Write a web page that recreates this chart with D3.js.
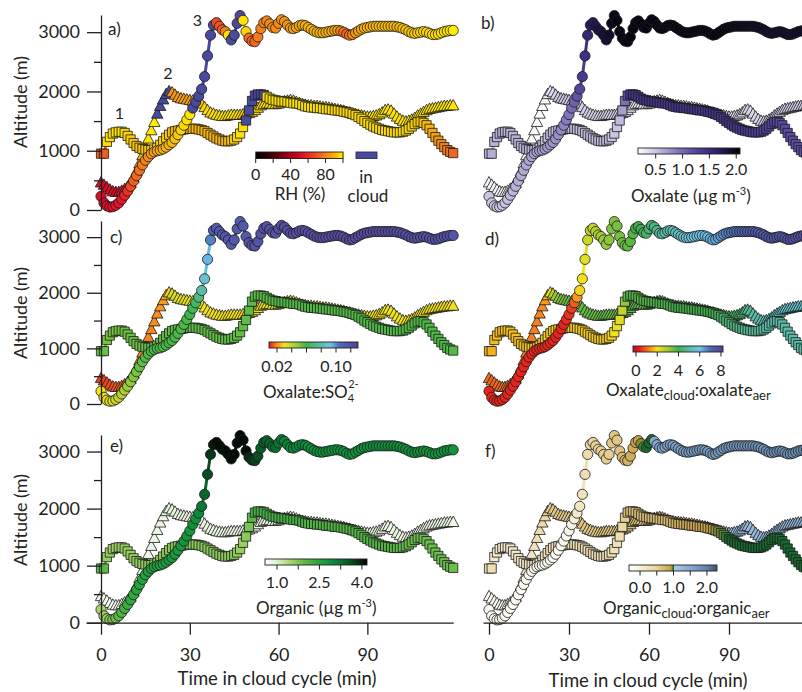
<!DOCTYPE html>
<html>
<head>
<meta charset="utf-8">
<script src="https://cdn.jsdelivr.net/npm/d3@7/dist/d3.min.js"></script>
<style>
  body { margin: 0; background: #fff; }
  svg { display: block; }
  text { font-family: Lato, "Open Sans", sans-serif; fill: #231f20; }
</style>
</head>
<body>
<svg id="chart" width="802" height="692"></svg>
<script>
// ---------------- data: time in cloud cycle (min) ----------------
const minutes = [
  0,1,2,3,4,5,6,7,8,9,10,11,12,13,14,15,16,17,18,19,
  20,21,22,23,24,25,26,27,28,29,30,31,32,33,34,35,36,37,38,39,
  40,41,42,43,44,45,46,47,48,49,50,51,52,53,54,55,56,57,58,59,
  60,61,62,63,64,65,66,67,68,69,70,71,72,73,74,75,76,77,78,79,
  80,81,82,83,84,85,86,87,88,89,90,91,92,93,94,95,96,97,98,99,
  100,101,102,103,104,105,106,107,108,109,110,111,112,113,114,115,116,117,118,119];

// altitude (m) of the three parcel trajectories
const altCircle = [
  230,120,70,50,55,80,120,180,250,320,
  400,490,580,670,760,840,900,950,980,1000,
  1010,1030,1060,1100,1140,1200,1270,1350,1430,1520,
  1610,1720,1820,1920,2040,2250,2600,2950,3120,3160,
  3100,3040,3010,2950,2870,2950,3150,3280,3200,3010,
  2900,2850,2840,2920,3060,3160,3190,3140,3080,3070,
  3150,3210,3180,3120,3070,3060,3080,3110,3120,3110,
  3080,3050,3020,3000,2990,2990,3000,3010,3020,3030,
  3030,3020,3000,2970,2950,2960,2990,3020,3050,3070,
  3080,3090,3100,3100,3100,3100,3100,3100,3100,3100,
  3090,3080,3060,3040,3010,2990,2980,2990,3000,3010,
  3000,2980,2960,2960,2970,2990,3010,3020,3030,3030];
const altTriangle = [
  460,420,380,340,310,300,300,320,350,390,
  450,540,650,780,920,1060,1200,1340,1480,1620,
  1750,1860,1950,2000,1980,1940,1900,1880,1870,1860,
  1850,1840,1840,1830,1790,1730,1680,1640,1620,1600,
  1590,1580,1580,1590,1600,1600,1600,1600,1610,1620,
  1630,1650,1680,1720,1760,1780,1790,1790,1780,1780,
  1790,1810,1830,1840,1850,1840,1820,1800,1780,1770,
  1760,1760,1750,1750,1740,1730,1730,1720,1710,1700,
  1690,1680,1670,1650,1640,1620,1610,1600,1590,1580,
  1570,1570,1580,1590,1610,1640,1680,1690,1670,1620,
  1570,1530,1500,1490,1500,1520,1550,1590,1620,1650,
  1680,1700,1710,1720,1730,1740,1750,1750,1760,1760];
const altSquare = [
  950,950,1150,1230,1290,1310,1320,1320,1300,1250,
  1190,1130,1080,1050,1030,1020,1010,1010,1020,1050,
  1100,1160,1220,1270,1310,1330,1340,1350,1360,1370,
  1370,1370,1370,1360,1350,1330,1300,1270,1240,1210,
  1190,1170,1160,1160,1170,1190,1230,1290,1400,1510,
  1680,1840,1930,1950,1950,1940,1910,1880,1860,1850,
  1840,1830,1830,1820,1810,1800,1800,1790,1770,1750,
  1740,1730,1730,1720,1720,1710,1700,1700,1690,1680,
  1680,1670,1660,1650,1640,1620,1600,1570,1540,1500,
  1470,1440,1410,1390,1370,1350,1340,1330,1320,1310,
  1310,1310,1320,1340,1370,1410,1450,1480,1490,1470,
  1430,1370,1300,1230,1170,1110,1060,1010,980,960];

// relative humidity (%); null = in cloud
const rhCircle = [
  52,52,52,53,53,54,55,56,58,62,
  68,72,74,76,78,80,82,84,86,88,
  88,89,90,90,91,92,93,95,96,97,
  98,null,null,null,null,null,null,null,null,68,
  70,72,80,97,null,null,null,null,97,95,
  76,74,74,78,80,80,80,81,82,82,
  82,83,83,84,85,86,87,88,88,89,
  89,90,90,90,90,90,90,90,89,88,
  86,82,76,74,76,80,84,86,88,89,
  90,90,90,91,91,91,91,91,91,91,
  91,91,92,92,93,93,94,94,95,95,
  95,96,96,96,97,97,97,98,98,99];
const rhTriangle = [
  50,50,50,50,50,50,52,55,60,66,
  72,76,80,85,90,94,97,98,99,null,
  null,null,null,null,84,84,85,85,86,86,
  87,88,90,92,94,95,96,96,97,97,
  97,97,97,97,97,97,96,96,95,95,
  95,95,95,96,96,96,96,96,96,96,
  96,96,96,96,96,96,96,96,96,96,
  96,96,96,96,96,96,96,96,96,96,
  96,96,96,96,96,96,96,97,97,97,
  97,97,97,97,97,97,97,97,97,97,
  97,97,97,97,97,97,97,97,97,97,
  97,97,97,98,98,98,98,98,98,98];
const rhSquare = [
  72,72,97,97,97,97,97,97,96,95,
  94,93,92,92,92,93,94,95,95,95,
  95,95,94,93,92,91,90,90,90,90,
  90,90,90,90,90,90,90,90,90,90,
  90,90,90,91,92,94,96,97,97,null,
  null,null,null,null,null,null,97,97,97,97,
  97,97,97,97,97,97,97,97,97,97,
  97,97,97,97,97,97,97,97,97,96,
  96,96,96,96,96,96,96,96,96,96,
  96,96,96,96,96,96,96,96,96,96,
  96,96,96,96,96,95,95,94,93,92,
  91,90,88,86,84,82,80,78,76,74];

// oxalate (ug m-3)
const oxCircle = [
  0.50,0.50,0.50,0.50,0.50,0.50,0.52,0.54,0.56,0.58,
  0.60,0.62,0.63,0.64,0.65,0.66,0.67,0.68,0.69,0.70,
  0.70,0.71,0.72,0.73,0.74,0.76,0.78,0.80,0.84,0.88,
  0.92,0.98,1.05,1.15,1.25,1.35,1.45,1.55,1.65,1.70,
  1.75,1.80,1.80,1.85,1.85,1.90,1.95,2.00,2.00,2.00,
  2.00,2.00,2.00,2.00,2.00,2.00,2.00,2.00,2.00,2.00,
  2.00,2.00,2.00,2.00,2.00,2.00,2.00,2.00,2.00,2.00,
  2.00,2.00,2.00,2.00,2.00,2.00,2.00,2.00,2.00,2.00,
  2.00,2.00,2.00,2.00,2.00,2.00,2.00,2.00,2.00,2.00,
  1.98,1.98,1.97,1.97,1.96,1.96,1.95,1.95,1.94,1.94,
  1.93,1.93,1.92,1.92,1.91,1.91,1.90,1.90,1.90,1.90,
  1.90,1.90,1.90,1.90,1.90,1.90,1.90,1.90,1.90,1.90];
const oxTriangle = [
  0.24,0.24,0.24,0.23,0.23,0.23,0.22,0.22,0.22,0.22,
  0.21,0.21,0.20,0.20,0.20,0.20,0.20,0.20,0.20,0.20,
  0.20,0.22,0.25,0.30,0.38,0.44,0.48,0.50,0.50,0.50,
  0.50,0.48,0.46,0.45,0.45,0.44,0.44,0.44,0.44,0.44,
  0.44,0.44,0.44,0.44,0.44,0.44,0.43,0.42,0.41,0.40,
  0.38,0.36,0.34,0.32,0.30,0.30,0.30,0.30,0.30,0.30,
  0.30,0.30,0.30,0.30,0.30,0.30,0.30,0.30,0.30,0.30,
  0.30,0.30,0.30,0.30,0.30,0.30,0.30,0.30,0.30,0.30,
  0.30,0.30,0.30,0.30,0.30,0.30,0.31,0.32,0.33,0.34,
  0.35,0.36,0.37,0.38,0.39,0.40,0.40,0.40,0.40,0.40,
  0.41,0.41,0.42,0.42,0.43,0.43,0.44,0.44,0.45,0.45,
  0.45,0.45,0.46,0.46,0.46,0.46,0.47,0.47,0.47,0.47];
const oxSquare = [
  0.62,0.62,0.60,0.60,0.60,0.60,0.60,0.60,0.60,0.60,
  0.60,0.60,0.60,0.60,0.60,0.60,0.59,0.58,0.57,0.56,
  0.55,0.55,0.55,0.55,0.55,0.55,0.55,0.55,0.55,0.55,
  0.55,0.55,0.55,0.55,0.55,0.55,0.55,0.55,0.55,0.55,
  0.55,0.55,0.55,0.55,0.55,0.55,0.52,0.50,0.50,0.55,
  0.70,0.95,1.20,1.35,1.40,1.40,1.40,1.40,1.40,1.40,
  1.40,1.40,1.40,1.40,1.40,1.40,1.40,1.40,1.40,1.40,
  1.40,1.40,1.40,1.40,1.40,1.40,1.40,1.40,1.40,1.40,
  1.40,1.40,1.40,1.40,1.40,1.40,1.40,1.40,1.40,1.40,
  1.40,1.40,1.39,1.38,1.37,1.36,1.35,1.34,1.33,1.32,
  1.31,1.30,1.29,1.28,1.27,1.26,1.25,1.24,1.23,1.22,
  1.22,1.21,1.21,1.20,1.20,1.20,1.20,1.20,1.20,1.20];

// oxalate : sulfate mass ratio
const oxSo4Circle = [
  0.030,0.030,0.032,0.034,0.036,0.038,0.040,0.042,0.044,0.046,
  0.048,0.050,0.052,0.054,0.055,0.056,0.057,0.058,0.058,0.058,
  0.058,0.058,0.058,0.058,0.058,0.058,0.058,0.058,0.058,0.058,
  0.060,0.062,0.066,0.072,0.080,0.088,0.094,0.102,0.110,0.114,
  0.115,0.115,0.115,0.115,0.115,0.115,0.115,0.115,0.115,0.115,
  0.118,0.118,0.118,0.118,0.118,0.118,0.118,0.118,0.118,0.118,
  0.120,0.120,0.120,0.120,0.120,0.120,0.120,0.120,0.120,0.120,
  0.121,0.121,0.121,0.121,0.121,0.121,0.121,0.121,0.121,0.121,
  0.122,0.122,0.122,0.122,0.122,0.122,0.122,0.122,0.122,0.122,
  0.121,0.121,0.121,0.121,0.121,0.120,0.120,0.120,0.120,0.120,
  0.119,0.119,0.119,0.119,0.119,0.118,0.118,0.118,0.118,0.118,
  0.118,0.118,0.118,0.118,0.118,0.118,0.118,0.118,0.118,0.118];
const oxSo4Triangle = [
  0.013,0.013,0.013,0.014,0.014,0.015,0.015,0.016,0.016,0.017,
  0.017,0.018,0.018,0.018,0.019,0.019,0.019,0.019,0.020,0.020,
  0.021,0.022,0.025,0.028,0.036,0.036,0.035,0.034,0.033,0.032,
  0.031,0.031,0.031,0.031,0.031,0.031,0.031,0.031,0.031,0.031,
  0.031,0.031,0.031,0.031,0.031,0.031,0.031,0.031,0.031,0.031,
  0.032,0.032,0.032,0.032,0.032,0.032,0.032,0.032,0.032,0.032,
  0.033,0.033,0.033,0.033,0.033,0.033,0.033,0.033,0.033,0.033,
  0.033,0.033,0.033,0.033,0.033,0.033,0.033,0.033,0.033,0.033,
  0.032,0.032,0.032,0.032,0.032,0.032,0.032,0.032,0.032,0.032,
  0.031,0.031,0.031,0.031,0.031,0.031,0.031,0.031,0.031,0.031,
  0.031,0.031,0.031,0.031,0.031,0.031,0.031,0.031,0.031,0.031,
  0.031,0.031,0.031,0.031,0.031,0.031,0.031,0.031,0.031,0.031];
const oxSo4Square = [
  0.054,0.054,0.052,0.052,0.052,0.052,0.052,0.052,0.053,0.053,
  0.054,0.054,0.054,0.054,0.054,0.054,0.054,0.054,0.054,0.054,
  0.055,0.055,0.055,0.055,0.055,0.055,0.055,0.055,0.055,0.055,
  0.055,0.055,0.055,0.055,0.055,0.055,0.055,0.055,0.055,0.055,
  0.055,0.055,0.055,0.055,0.055,0.055,0.055,0.055,0.055,0.055,
  0.056,0.056,0.056,0.056,0.056,0.056,0.056,0.056,0.056,0.056,
  0.057,0.057,0.057,0.057,0.057,0.057,0.057,0.057,0.057,0.057,
  0.057,0.057,0.057,0.057,0.057,0.057,0.057,0.057,0.057,0.057,
  0.057,0.057,0.057,0.057,0.057,0.057,0.057,0.057,0.057,0.057,
  0.057,0.057,0.057,0.057,0.057,0.057,0.057,0.057,0.057,0.057,
  0.057,0.057,0.057,0.057,0.057,0.057,0.057,0.057,0.057,0.057,
  0.057,0.057,0.057,0.057,0.057,0.057,0.057,0.057,0.057,0.057];

// oxalate (cloud) : oxalate (aerosol)
const oxRatioCircle = [
  0.40,0.40,0.40,0.40,0.40,0.40,0.40,0.40,0.40,0.40,
  0.40,0.40,0.40,0.40,0.40,0.40,0.40,0.40,0.40,0.40,
  0.40,0.40,0.40,0.40,0.40,0.40,0.40,0.40,0.40,0.45,
  0.50,0.60,0.90,1.40,1.90,2.00,2.20,2.50,2.60,2.60,
  2.70,2.80,2.90,3.00,3.10,3.20,3.30,3.30,3.40,3.40,
  3.50,3.50,3.60,3.70,3.80,3.90,4.00,4.10,4.20,4.30,
  4.40,4.50,4.60,4.70,4.80,4.90,5.00,5.00,5.10,5.20,
  5.30,5.40,5.50,5.60,5.70,5.80,5.80,5.90,5.90,6.00,
  6.00,6.10,6.10,6.20,6.20,6.30,6.40,6.50,6.60,6.70,
  6.80,6.80,6.90,6.90,7.00,7.00,7.10,7.10,7.20,7.20,
  7.30,7.30,7.30,7.40,7.40,7.40,7.40,7.50,7.50,7.50,
  7.50,7.50,7.60,7.60,7.60,7.60,7.60,7.60,7.60,7.60];
const oxRatioTriangle = [
  1.00,1.00,1.00,1.00,1.00,1.00,1.05,1.10,1.10,1.15,
  1.20,1.20,1.20,1.20,1.20,1.20,1.20,1.20,1.20,1.25,
  1.30,1.40,1.70,2.00,2.80,3.00,3.20,3.30,3.40,3.50,
  3.50,3.60,3.60,3.60,3.60,3.60,3.60,3.60,3.60,3.60,
  3.60,3.60,3.60,3.60,3.60,3.60,3.60,3.60,3.60,3.60,
  3.70,3.70,3.70,3.70,3.70,3.70,3.70,3.70,3.70,3.70,
  3.70,3.70,3.70,3.70,3.70,3.70,3.70,3.70,3.70,3.70,
  3.80,3.80,3.80,3.80,3.80,3.80,3.80,3.80,3.80,3.80,
  3.80,3.80,3.80,3.80,3.80,3.80,3.80,3.80,3.80,3.80,
  4.00,4.10,4.20,4.30,4.40,4.50,4.60,4.70,4.80,4.90,
  5.00,5.00,5.10,5.10,5.20,5.20,5.30,5.30,5.40,5.40,
  5.40,5.50,5.50,5.50,5.50,5.60,5.60,5.60,5.60,5.60];
const oxRatioSquare = [
  1.60,1.60,1.70,1.70,1.70,1.70,1.70,1.70,1.70,1.70,
  1.70,1.70,1.70,1.70,1.70,1.70,1.80,1.80,1.80,1.80,
  1.80,1.80,1.80,1.80,1.80,1.80,1.80,1.80,1.80,1.80,
  1.80,1.80,1.80,1.80,1.80,1.80,1.80,1.80,1.80,1.80,
  1.80,1.80,1.80,1.80,1.80,1.80,1.90,2.00,2.10,2.20,
  2.60,3.20,3.70,3.80,3.80,3.80,3.80,3.80,3.80,3.80,
  3.80,3.80,3.80,3.90,3.90,3.90,3.90,3.90,3.90,3.90,
  4.00,4.00,4.00,4.00,4.00,4.00,4.00,4.00,4.00,4.00,
  4.00,4.00,4.00,4.00,4.00,4.10,4.20,4.30,4.40,4.40,
  4.50,4.50,4.50,4.60,4.60,4.60,4.70,4.70,4.80,4.80,
  4.80,4.90,4.90,4.90,5.00,5.00,5.00,5.00,5.00,5.00,
  5.00,5.00,5.00,5.00,5.00,5.00,5.00,5.00,5.00,5.00];

// organic (ug m-3)
const orgCircle = [
  1.50,1.50,1.60,1.70,1.80,1.90,2.00,2.10,2.20,2.30,
  2.40,2.40,2.50,2.50,2.50,2.50,2.60,2.60,2.60,2.60,
  2.60,2.60,2.60,2.70,2.70,2.70,2.70,2.70,2.80,2.80,
  2.80,2.90,2.90,3.00,3.20,3.40,3.60,3.80,4.00,4.10,
  4.10,4.10,4.10,4.10,4.10,4.10,4.10,4.10,4.10,4.10,
  3.90,3.80,3.70,3.60,3.50,3.50,3.40,3.40,3.30,3.30,
  3.20,3.20,3.10,3.10,3.00,3.00,3.00,3.00,3.00,3.00,
  2.90,2.90,2.90,2.90,2.90,2.90,2.90,2.90,2.90,2.90,
  2.90,2.90,2.90,2.90,2.90,2.90,2.90,2.90,2.90,2.90,
  2.90,2.90,2.90,2.90,2.90,2.90,2.90,2.90,2.90,2.90,
  2.90,2.90,2.90,2.90,2.90,2.90,2.90,2.90,2.90,2.90,
  2.85,2.85,2.85,2.85,2.85,2.85,2.85,2.85,2.85,2.85];
const orgTriangle = [
  0.72,0.72,0.72,0.72,0.72,0.72,0.72,0.72,0.72,0.72,
  0.75,0.76,0.78,0.80,0.80,0.80,0.80,0.80,0.80,0.82,
  0.84,0.86,0.88,0.90,0.90,0.90,0.90,0.88,0.86,0.85,
  0.84,0.84,0.84,0.84,0.84,0.84,0.84,0.84,0.84,0.84,
  0.82,0.82,0.82,0.82,0.82,0.82,0.82,0.82,0.82,0.82,
  0.80,0.80,0.80,0.80,0.80,0.80,0.80,0.80,0.80,0.80,
  0.80,0.80,0.80,0.80,0.80,0.80,0.80,0.80,0.80,0.80,
  0.80,0.80,0.80,0.80,0.80,0.80,0.80,0.80,0.80,0.80,
  0.80,0.80,0.80,0.80,0.80,0.80,0.80,0.80,0.80,0.80,
  0.80,0.80,0.80,0.80,0.80,0.80,0.80,0.80,0.80,0.80,
  0.80,0.80,0.80,0.80,0.80,0.80,0.80,0.80,0.80,0.80,
  0.80,0.80,0.80,0.80,0.80,0.80,0.80,0.80,0.80,0.80];
const orgSquare = [
  2.00,2.00,1.60,1.60,1.55,1.55,1.55,1.55,1.60,1.60,
  1.60,1.60,1.65,1.65,1.65,1.65,1.70,1.70,1.70,1.70,
  1.70,1.70,1.70,1.70,1.70,1.70,1.70,1.70,1.70,1.70,
  1.70,1.70,1.70,1.70,1.70,1.70,1.70,1.70,1.70,1.70,
  1.70,1.70,1.70,1.70,1.70,1.70,1.65,1.60,1.60,1.70,
  1.80,2.00,2.20,2.20,2.20,2.20,2.20,2.20,2.20,2.20,
  2.20,2.20,2.20,2.20,2.20,2.20,2.20,2.20,2.20,2.20,
  2.10,2.10,2.10,2.10,2.10,2.10,2.10,2.10,2.10,2.10,
  2.10,2.10,2.10,2.10,2.10,2.10,2.10,2.10,2.10,2.10,
  2.10,2.10,2.10,2.10,2.10,2.10,2.10,2.10,2.10,2.10,
  2.00,2.00,1.95,1.95,1.90,1.90,1.90,1.90,1.90,1.90,
  1.90,1.90,1.90,1.90,1.90,1.90,1.90,1.90,1.90,1.90];

// organic (cloud) : organic (aerosol)
const orgRatioCircle = [
  -0.20,-0.20,-0.20,-0.20,-0.20,-0.20,-0.20,-0.20,-0.20,-0.20,
  -0.20,-0.20,-0.20,-0.20,-0.20,-0.20,-0.20,-0.20,-0.20,-0.20,
  -0.20,-0.20,-0.20,-0.20,-0.20,-0.20,-0.20,-0.20,-0.20,-0.20,
  -0.15,-0.10,0.00,0.10,0.20,0.25,0.30,0.35,0.40,0.45,
  0.50,0.50,0.50,0.55,0.55,0.55,0.60,0.60,0.60,0.65,
  0.70,0.75,0.80,0.82,0.85,0.88,0.92,0.95,0.97,1.00,
  1.00,1.00,1.50,1.52,1.54,1.56,1.58,1.60,1.60,1.62,
  1.62,1.63,1.64,1.65,1.65,1.66,1.66,1.67,1.68,1.68,
  1.69,1.70,1.70,1.71,1.72,1.72,1.73,1.73,1.74,1.74,
  1.75,1.75,1.76,1.76,1.77,1.77,1.78,1.78,1.78,1.79,
  1.79,1.80,1.80,1.80,1.81,1.81,1.82,1.82,1.82,1.83,
  1.83,1.84,1.84,1.85,1.85,1.86,1.86,1.87,1.87,1.88];
const orgRatioTriangle = [
  -0.20,-0.20,-0.20,-0.20,-0.20,-0.20,-0.20,-0.20,-0.20,-0.20,
  -0.10,-0.05,0.00,0.05,0.10,0.15,0.20,0.25,0.30,0.35,
  0.40,0.45,0.50,0.55,0.60,0.60,0.60,0.60,0.60,0.60,
  0.60,0.60,0.60,0.60,0.60,0.60,0.60,0.60,0.60,0.60,
  0.62,0.62,0.62,0.62,0.62,0.62,0.62,0.62,0.62,0.62,
  0.65,0.65,0.66,0.66,0.67,0.67,0.68,0.68,0.69,0.69,
  0.70,0.70,0.70,0.70,0.70,0.70,0.70,0.70,0.70,0.70,
  0.72,0.72,0.72,0.72,0.72,0.72,0.72,0.72,0.72,0.72,
  0.75,0.75,0.75,0.75,0.75,0.75,0.75,0.75,1.10,1.15,
  1.20,1.20,1.20,1.20,1.25,1.25,1.25,1.25,1.25,1.25,
  1.30,1.30,1.30,1.30,1.30,1.30,1.30,1.30,1.30,1.30,
  1.35,1.35,1.35,1.35,1.35,1.35,1.35,1.35,1.35,1.35];
const orgRatioSquare = [
  0.30,0.30,0.12,0.12,0.12,0.12,0.12,0.12,0.12,0.12,
  0.12,0.12,0.14,0.16,0.18,0.20,0.22,0.24,0.26,0.28,
  0.30,0.30,0.30,0.30,0.30,0.30,0.30,0.30,0.30,0.30,
  0.30,0.30,0.30,0.30,0.30,0.30,0.30,0.30,0.30,0.30,
  0.30,0.30,0.30,0.30,0.30,0.30,0.28,0.25,0.25,0.30,
  0.40,0.55,0.70,0.70,0.70,0.70,0.70,0.70,0.70,0.70,
  0.70,0.70,0.70,0.70,0.70,0.70,0.70,0.70,0.70,0.70,
  0.80,0.80,0.82,0.82,0.84,0.84,0.86,0.86,0.88,0.88,
  0.90,0.90,0.91,0.92,0.93,0.94,0.95,0.96,0.97,0.98,
  1.00,1.00,1.00,1.00,1.00,1.00,1.00,1.00,1.00,1.00,
  1.00,1.00,1.00,1.00,1.00,1.00,1.00,1.00,1.00,1.00,
  1.00,1.00,1.00,1.00,1.00,1.00,1.00,1.00,1.00,1.00];

// axis ticks
const altTicks = [0, 1000, 2000, 3000];
const altMinorTicks = [500, 1500, 2500];
const timeTicks = [0, 30, 60, 90];

// ---------------- colour maps ----------------
function stopScale(stops) {
  return d3.scaleLinear()
    .domain(stops.map(s => s[0]))
    .range(stops.map(s => s[1]))
    .interpolate(d3.interpolateRgb)
    .clamp(true);
}
const cloudColor = "#4a4a9c";
const rhColor = stopScale([[0,"#000000"],[12,"#2a0000"],[30,"#7a0010"],[45,"#c4001c"],[55,"#e5132b"],
  [68,"#ef4a22"],[78,"#f47a1a"],[88,"#f6a80e"],[100,"#fff200"]]);
const oxColor = stopScale([[0.17,"#ffffff"],[0.5,"#cbc5e2"],[0.9,"#8577bd"],[1.3,"#4f3d97"],
  [1.7,"#2a1a5e"],[2.07,"#000000"]]);
const oxSo4Color = stopScale([[0.009,"#e8141c"],[0.018,"#f57b1f"],[0.03,"#f5e31a"],[0.045,"#a6cf39"],
  [0.06,"#3db54a"],[0.08,"#5cbcaa"],[0.092,"#6cc5e8"],[0.105,"#4c6cb8"],[0.13,"#5b3c94"]]);
const oxRatioColor = stopScale([[-0.28,"#b5122b"],[0.3,"#e31a1c"],[1.2,"#f57f20"],[2.0,"#f2e21a"],
  [3.0,"#9fcb3b"],[4.0,"#3fae49"],[5.0,"#5bbcaa"],[6.0,"#6ec3e7"],[7.0,"#4e66b0"],[8.2,"#5b3a93"]]);
const orgColor = stopScale([[0.58,"#ffffff"],[1.0,"#dcefcf"],[1.5,"#a6d466"],[2.0,"#5db947"],
  [2.5,"#27a33d"],[3.0,"#0b8a3a"],[3.5,"#0a5a28"],[3.9,"#062a12"],[4.18,"#000000"]]);
const orgRatioColor = stopScale([[-0.33,"#ffffff"],[0,"#f7efdc"],[0.5,"#e9d39a"],[0.92,"#c9a24a"],
  [0.985,"#2f7a2c"],[1.0,"#17692e"],[1.015,"#a9c9e8"],[1.5,"#86a9cf"],[2.0,"#5f82a8"],[2.33,"#3d5068"]]);

// ---------------- layout ----------------
const svg = d3.select("#chart");
const ink = "#231f20";
const rows = [
  { top: 15, zero: 210, titleY: 102 },
  { top: 221, zero: 404, titleY: 313 },
  { top: 435, zero: 622.7, titleY: 520 }
];
const altMax = 3290;
const xLeft = d3.scaleLinear().domain([-5.07, 119]).range([86, 453.2]);
const xRight = d3.scaleLinear().domain([-2.25, 120]).range([483, 809]);

const shapes = {
  circle: "M5.1,0A5.1,5.1 0 1,1 -5.1,0A5.1,5.1 0 1,1 5.1,0Z",
  square: "M-4.6,-4.6H4.6V4.6H-4.6Z",
  triangle: "M0,-6.2L5.7,4.2H-5.7Z"
};
const trajectories = [
  { shape: "triangle", alt: altTriangle },
  { shape: "square", alt: altSquare },
  { shape: "circle", alt: altCircle }
];

const panels = [
  { label: "a)", lx: 108, ly: 35, row: 0, side: "left", color: rhColor,
    series: [rhTriangle, rhSquare, rhCircle],
    bar: { x0: 255.7, x1: 343, lo: 0, hi: 100, y: 152, h: 6.5,
      ticks: [0,20,40,60,80,100], labels: [[0,"0"],[40,"40"],[80,"80"]], base: 180 } },
  { label: "b)", lx: 481, ly: 29, row: 0, side: "right", color: oxColor,
    series: [oxTriangle, oxSquare, oxCircle],
    bar: { x0: 638, x1: 740, lo: 0.17, hi: 2.07, y: 148, h: 6,
      ticks: [0.5,1,1.5,2], labels: [[0.5,"0.5"],[1,"1.0"],[1.5,"1.5"],[2,"2.0"]], base: 175 } },
  { label: "c)", lx: 110, ly: 243, row: 1, side: "left", color: oxSo4Color,
    series: [oxSo4Triangle, oxSo4Square, oxSo4Circle],
    bar: { x0: 269, x1: 358, lo: 0.0092, hi: 0.1298, y: 342, h: 6,
      ticks: [0.02,0.04,0.06,0.08,0.10,0.12], labels: [[0.02,"0.02"],[0.10,"0.10"]], base: 372 } },
  { label: "d)", lx: 485, ly: 245, row: 1, side: "right", color: oxRatioColor,
    series: [oxRatioTriangle, oxRatioSquare, oxRatioCircle],
    bar: { x0: 633, x1: 723, lo: -0.28, hi: 8.19, y: 346, h: 6,
      ticks: [0,2,4,6,8], labels: [[0,"0"],[2,"2"],[4,"4"],[6,"6"],[8,"8"]], base: 376 } },
  { label: "e)", lx: 110, ly: 452, row: 2, side: "left", color: orgColor,
    series: [orgTriangle, orgSquare, orgCircle],
    bar: { x0: 265, x1: 367, lo: 0.576, hi: 4.18, y: 559, h: 6,
      ticks: [1,1.75,2.5,3.25,4], labels: [[1,"1.0"],[2.5,"2.5"],[4,"4.0"]], base: 588 } },
  { label: "f)", lx: 485, ly: 457, row: 2, side: "right", color: orgRatioColor,
    series: [orgRatioTriangle, orgRatioSquare, orgRatioCircle],
    bar: { x0: 629, x1: 717, lo: -0.33, hi: 2.30, y: 565, h: 6,
      ticks: [0,0.5,1,1.5,2], labels: [[0,"0.0"],[1,"1.0"],[2,"2.0"]], base: 593 } }
];

function styleAxis(g, fontSize) {
  g.attr("font-family", null).attr("font-size", null);
  g.selectAll(".domain, .tick line").attr("stroke", ink).attr("stroke-width", 1.3);
  g.selectAll(".tick text").attr("fill", ink).style("font-size", fontSize + "px");
}

// ---------------- trajectories ----------------
panels.forEach(p => {
  const x = p.side === "left" ? xLeft : xRight;
  const r = rows[p.row];
  const y = d3.scaleLinear().domain([0, altMax]).range([r.zero, r.top]);
  const g = svg.append("g").attr("class", "panel");

  trajectories.forEach((tr, k) => {
    const vals = p.series[k];
    const pts = minutes.map((t, i) => ({ t, alt: tr.alt[i], v: vals[i] }));
    const fill = d => (d.v == null ? cloudColor : p.color(d.v));
    g.append("g").selectAll("line").data(d3.pairs(pts)).join("line")
      .attr("x1", d => x(d[0].t)).attr("y1", d => y(d[0].alt))
      .attr("x2", d => x(d[1].t)).attr("y2", d => y(d[1].alt))
      .attr("stroke", d => fill(d[0])).attr("stroke-width", 3);
    g.append("g").selectAll("path").data(pts).join("path")
      .attr("d", shapes[tr.shape])
      .attr("transform", d => `translate(${x(d.t)},${y(d.alt)})`)
      .attr("fill", fill).attr("stroke", "#1b1b1b").attr("stroke-width", 0.8);
  });

  // panel letter
  svg.append("text").attr("x", p.lx).attr("y", p.ly).style("font-size", "17px").text(p.label);

  // y axis on left-column panels
  if (p.side === "left") {
    const ya = svg.append("g").attr("transform", "translate(101,0)")
      .call(d3.axisLeft(y).tickValues(altTicks).tickFormat(d3.format("d"))
        .tickSize(14).tickSizeOuter(0).tickPadding(7));
    styleAxis(ya, 18);
    const ym = svg.append("g").attr("transform", "translate(101,0)")
      .call(d3.axisLeft(y).tickValues(altMinorTicks).tickSize(7).tickFormat(""));
    ym.select(".domain").remove();
    styleAxis(ym, 18);
    svg.append("text")
      .attr("transform", `translate(27,${r.titleY}) rotate(-90)`)
      .attr("text-anchor", "middle").style("font-size", "18px").text("Altitude (m)");
  }

  // time axis on the bottom row
  if (p.row === 2) {
    const xa = svg.append("g").attr("transform", `translate(0,${r.zero})`)
      .call(d3.axisBottom(x).tickValues(timeTicks).tickSize(12).tickSizeOuter(0).tickPadding(14));
    styleAxis(xa, 18);
    svg.append("text")
      .attr("x", p.side === "left" ? 277 : 648).attr("y", p.side === "left" ? 685 : 687)
      .attr("text-anchor", "middle").style("font-size", "18.5px")
      .text("Time in cloud cycle (min)");
  }

  // colour bar
  const b = p.bar;
  const px2v = d3.scaleLinear().domain([b.x0, b.x1]).range([b.lo, b.hi]);
  const v2px = d3.scaleLinear().domain([b.lo, b.hi]).range([b.x0, b.x1]);
  const cb = svg.append("g");
  const cols = d3.range(b.x0, b.x1, 1);
  cb.selectAll("rect").data(cols).join("rect")
    .attr("x", c => c).attr("y", b.y).attr("width", 1.3).attr("height", b.h)
    .attr("fill", c => p.color(px2v(c + 0.5))).attr("shape-rendering", "crispEdges");
  cb.append("rect").attr("x", b.x0).attr("y", b.y).attr("width", b.x1 - b.x0).attr("height", b.h)
    .attr("fill", "none").attr("stroke", ink).attr("stroke-width", 0.9);
  cb.selectAll("line").data(b.ticks).join("line")
    .attr("x1", v => v2px(v)).attr("x2", v => v2px(v))
    .attr("y1", b.y + b.h).attr("y2", b.y + b.h + 4.5)
    .attr("stroke", ink).attr("stroke-width", 1);
  cb.selectAll("text").data(b.labels).join("text")
    .attr("x", d => v2px(d[0])).attr("y", b.base)
    .attr("text-anchor", "middle").style("font-size", "16px").text(d => d[1]);
});

// colour bar titles
function title(x, y, parts) {
  const t = svg.append("text").attr("x", x).attr("y", y).style("font-size", "17px");
  parts.forEach(pt => {
    const s = t.append("tspan").text(pt.text);
    if (pt.size) s.style("font-size", pt.size + "px");
    if (pt.dy) s.attr("dy", pt.dy);
    if (pt.dx) s.attr("dx", pt.dx);
  });
  return t;
}
title(300, 200, [{ text: "RH (%)" }]).attr("text-anchor", "middle");
svg.append("rect").attr("x", 356).attr("y", 152).attr("width", 21).attr("height", 6.5)
  .attr("fill", cloudColor).attr("stroke", "#2a2a55").attr("stroke-width", 0.9);
title(366, 183, [{ text: "in" }]).attr("text-anchor", "middle");
title(368, 202, [{ text: "cloud" }]).attr("text-anchor", "middle");

title(631, 202, [{ text: "Oxalate (\u00b5g m" }, { text: "-3", size: 11, dy: -7 }, { text: ")", dy: 7 }]);
title(263, 398, [{ text: "Oxalate:SO" }, { text: "4", size: 11, dy: 4 },
  { text: "2-", size: 11, dx: -6, dy: -14 }]);
title(606, 396, [{ text: "Oxalate" }, { text: "cloud", size: 13, dy: 4 },
  { text: ":oxalate", dy: -4 }, { text: "aer", size: 13, dy: 4 }]);
title(256, 614, [{ text: "Organic (\u00b5g m" }, { text: "-3", size: 11, dy: -7 }, { text: ")", dy: 7 }]);
title(603, 614, [{ text: "Organic" }, { text: "cloud", size: 13, dy: 4 },
  { text: ":organic", dy: -4 }, { text: "aer", size: 13, dy: 4 }]);

// trajectory numbers
[["1", 119.5, 119], ["2", 168, 79], ["3", 197.5, 26]].forEach(([s, x, y]) =>
  svg.append("text").attr("x", x).attr("y", y).attr("text-anchor", "middle")
    .style("font-size", "16px").text(s));
</script>
</body>
</html>
